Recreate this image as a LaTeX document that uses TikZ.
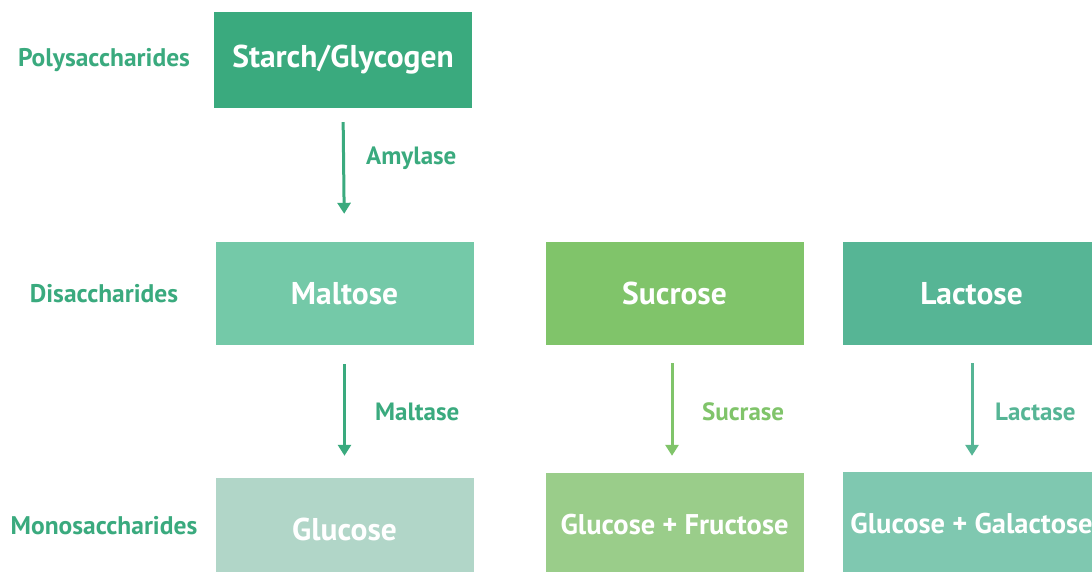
\documentclass[tikz,border=0pt]{standalone}
\usepackage{fontspec}
\setmainfont{PT Sans}
\usetikzlibrary{arrows.meta}
\definecolor{cStarch}{HTML}{3AAA7E}
\definecolor{cMaltose}{HTML}{74C9A8}
\definecolor{cSucrose}{HTML}{80C46A}
\definecolor{cLactose}{HTML}{56B595}
\definecolor{cGlucose}{HTML}{B1D6C8}
\definecolor{cGF}{HTML}{9ACD8A}
\definecolor{cGG}{HTML}{7FC8B0}
\tikzset{
  box/.style={rectangle, inner sep=0pt, minimum width=258pt, minimum height=#1, text=white,
    font=\fontsize{31.5}{34}\selectfont\bfseries},
  box/.default=103pt,
  level/.style={font=\fontsize{25.5}{28}\selectfont\bfseries, text=cStarch, inner sep=0pt},
  enzyme/.style={font=\fontsize{25}{28}\selectfont\bfseries, inner sep=0pt, anchor=west},
  conv/.style={line width=3pt, -{Triangle[width=13pt,length=11pt]}},
}
\begin{document}
\begin{tikzpicture}[x=1pt,y=-1pt]
\useasboundingbox (0,0) rectangle (1092,571);
\clip (0,0) rectangle (1092,571);
% boxes
\node[box=96pt, fill=cStarch] (starch) at (343,60) {Starch/Glycogen};
\node[box, fill=cMaltose] (maltose) at (344.5,293.5) {Maltose};
\node[box, fill=cSucrose] (sucrose) at (674.5,293.5) {Sucrose};
\node[box, fill=cLactose] (lactose) at (971.5,293.5) {Lactose};
\node[box, fill=cGlucose] (glucose) at (344.5,529.5) {Glucose};
\node[box, fill=cGF, font=\fontsize{28.5}{32}\selectfont\bfseries] (gf) at (674.5,524.5) {Glucose + Fructose};
\node[box, fill=cGG, font=\fontsize{28.5}{32}\selectfont\bfseries] (gg) at (971.5,523.5) {Glucose + Galactose};
% level labels
\node[level] (poly) at (104,60) {Polysaccharides};
\node[level] (di) at (104,294) {Disaccharides};
\node[level] (mono) at (104,526) {Monosaccharides};
% arrows
\draw[conv, cStarch, shorten <=14pt, shorten >=28pt] (starch.south) -- (maltose.north);
\draw[conv, cStarch, shorten <=19pt, shorten >=22pt] (maltose.south) -- (glucose.north);
\draw[conv, cSucrose, shorten <=18pt, shorten >=17pt] ([xshift=-2.5pt]sucrose.south) -- ([xshift=-2.5pt]gf.north);
\draw[conv, cLactose, shorten <=18pt, shorten >=16pt] ([xshift=0.5pt]lactose.south) -- ([xshift=0.5pt]gg.north);
% enzyme labels
\node[enzyme, text=cStarch] (amylase) at (366,158) {Amylase};
\node[enzyme, text=cStarch] (maltase) at (375,412) {Maltase};
\node[enzyme, text=cSucrose] (sucrase) at (702,412) {Sucrase};
\node[enzyme, text=cLactose] (lactase) at (995,412) {Lactase};
\end{tikzpicture}
\end{document}
